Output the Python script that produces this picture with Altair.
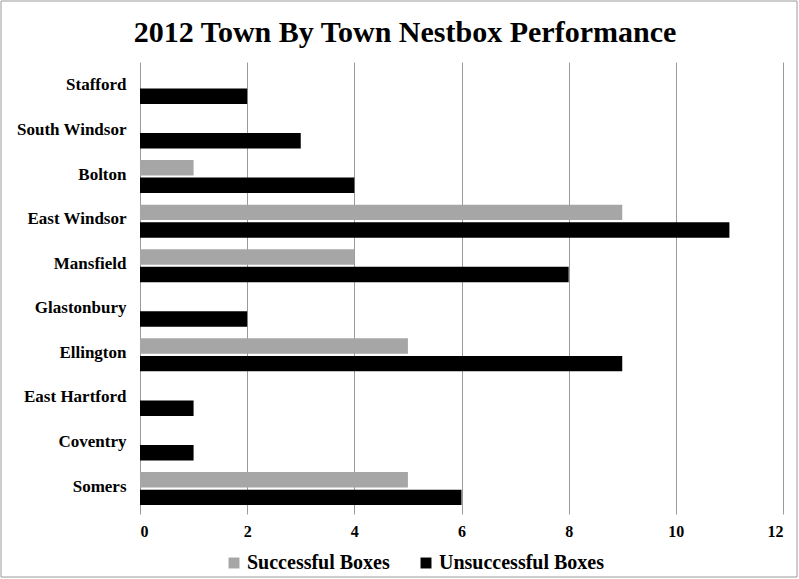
import altair as alt
import pandas as pd

towns = ["Stafford", "South Windsor", "Bolton", "East Windsor", "Mansfield",
         "Glastonbury", "Ellington", "East Hartford", "Coventry", "Somers"]
successful = [0, 0, 1, 9, 4, 0, 5, 0, 0, 5]
unsuccessful = [2, 3, 4, 11, 8, 2, 9, 1, 1, 6]
series = ["Successful Boxes", "Unsuccessful Boxes"]
colors = ["#a6a6a6", "#000000"]
x_ticks = [0, 2, 4, 6, 8, 10, 12]

rows = []
for t, s, u in zip(towns, successful, unsuccessful):
    rows.append({"Town": t, "Series": series[0], "Value": s})
    rows.append({"Town": t, "Series": series[1], "Value": u})
df = pd.DataFrame(rows)

FONT = "Liberation Serif"
W, H = 643, 452

bars = alt.Chart(df).mark_bar().encode(
    x=alt.X("Value:Q", scale=alt.Scale(domain=[0, 12]),
            axis=alt.Axis(values=x_ticks, title=None, grid=True, domain=False,
                          ticks=False, labelPadding=9, labelFontSize=16,
                          labelFontWeight="bold",
                          labelColor="#000", gridColor="#9a9a9a", gridWidth=1)),
    y=alt.Y("Town:N", sort=towns,
            scale=alt.Scale(paddingInner=0.26, paddingOuter=0.2),
            axis=alt.Axis(title=None, domain=False, ticks=False, labelPadding=14,
                          labelFontSize=17, labelFontWeight="bold",
                          labelColor="#000", labelBaseline="middle", labelOffset=-2)),
    yOffset=alt.YOffset("Series:N", sort=series,
                        scale=alt.Scale(paddingInner=0.12)),
    color=alt.Color("Series:N", sort=series,
                    scale=alt.Scale(domain=series, range=colors),
                    legend=alt.Legend(title=None, orient="none", direction="horizontal",
                                      legendX=84, legendY=491, symbolType="square",
                                      symbolSize=120, symbolStrokeWidth=0,
                                      labelFontSize=20, labelFontWeight="bold",
                                      labelColor="#000", labelFont=FONT,
                                      labelLimit=400,
                                      columnPadding=26, labelOffset=3)),
)

border = alt.Chart(pd.DataFrame({"a": [0]})).mark_rect(
    fill=None, stroke="#9a9a9a", strokeWidth=1
).encode(
    x=alt.value(-139), x2=alt.value(657), y=alt.value(-61), y2=alt.value(515)
)

title = alt.Chart(pd.DataFrame({"t": ["2012 Town By Town Nestbox Performance"]})).mark_text(
    fontSize=30, fontWeight="bold", color="#000", align="center",
    baseline="alphabetic", font=FONT
).encode(text="t:N", x=alt.value(265), y=alt.value(-20))

chart = alt.layer(bars, border, title).properties(
    width=W, height=H,
    padding={"left": 140, "top": 62, "right": 16, "bottom": 65},
    autosize=alt.AutoSizeParams(type="none"),
).configure(
    background="white", font=FONT
).configure_axis(
    labelFont=FONT
).configure_legend(
    labelFont=FONT
).configure_text(
    font=FONT
).configure_view(stroke=None)

chart.save("out.html", embed_options={"renderer": "svg", "actions": False})
